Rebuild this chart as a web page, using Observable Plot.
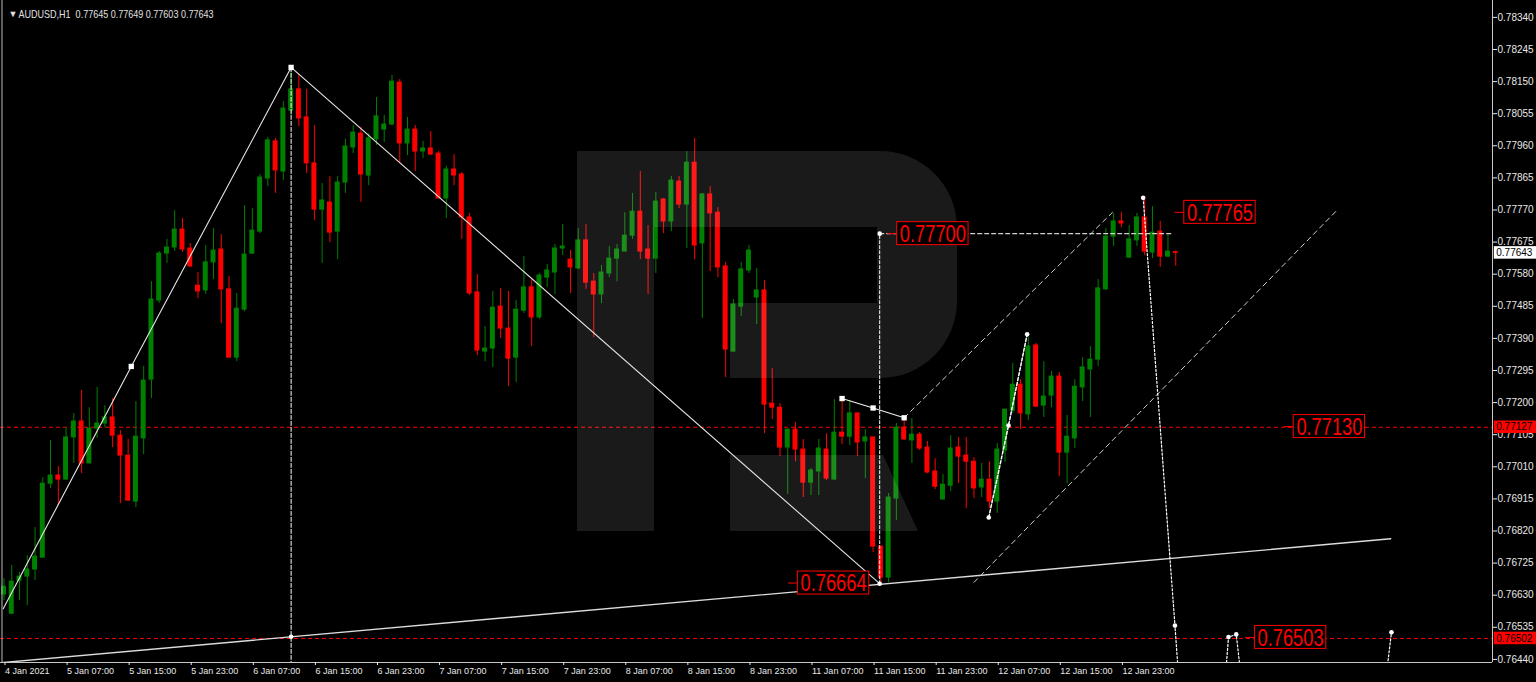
<!DOCTYPE html>
<html><head><meta charset="utf-8">
<script src="https://cdn.jsdelivr.net/npm/d3@7"></script>
<script src="https://cdn.jsdelivr.net/npm/@observablehq/plot@0.6"></script>
<style>
html,body{margin:0;padding:0;background:#000;}
#chart{position:relative;width:1536px;height:682px;overflow:hidden;background:#000;}
</style></head><body><div id="chart"></div>
<script>
// ---- AUDUSD H1 candles (bar 0 = 4 Jan 23:00) ----
const opens = [0.76632,0.76575,0.76673,0.76685,0.76706,0.76741,0.76960,0.76984,0.76972,0.77097,0.77144,0.77020,0.77123,0.77138,0.77156,0.77102,0.77043,0.76907,0.77094,0.77268,0.77502,0.77641,0.77659,0.77712,0.77656,0.77546,0.77532,0.77615,0.77653,0.77535,0.77333,0.77475,0.77641,0.77706,0.77863,0.77973,0.77884,0.78064,0.78127,0.78044,0.77908,0.77771,0.77792,0.77706,0.77851,0.77955,0.77996,0.77872,0.77979,0.78008,0.78023,0.78147,0.77967,0.78008,0.77943,0.77952,0.77937,0.77804,0.77890,0.77875,0.77748,0.77526,0.77351,0.77360,0.77484,0.77419,0.77333,0.77472,0.77541,0.77452,0.77570,0.77585,0.77656,0.77623,0.77597,0.77680,0.77558,0.77520,0.77582,0.77626,0.77647,0.77694,0.77765,0.77653,0.77626,0.77801,0.77736,0.77854,0.77786,0.77910,0.77671,0.77816,0.77762,0.77603,0.77351,0.77484,0.77591,0.77511,0.77532,0.77197,0.77185,0.77067,0.77120,0.77061,0.76963,0.76996,0.77061,0.76972,0.77111,0.77099,0.77168,0.77085,0.77097,0.76774,0.76682,0.76916,0.77126,0.77088,0.77105,0.77067,0.76996,0.76913,0.76954,0.77067,0.77043,0.77025,0.76949,0.76972,0.76907,0.77058,0.77176,0.77253,0.77165,0.77369,0.77191,0.77221,0.77277,0.77052,0.77094,0.77245,0.77298,0.77327,0.77535,0.77691,0.77736,0.77629,0.77680,0.77748,0.77644,0.77706,0.77632,0.77645];
const highs = [0.76679,0.76718,0.76697,0.76747,0.76830,0.76978,0.77088,0.77011,0.77126,0.77168,0.77236,0.77185,0.77245,0.77191,0.77212,0.77117,0.77091,0.77203,0.77307,0.77558,0.77647,0.77683,0.77768,0.77745,0.77671,0.77585,0.77665,0.77715,0.77697,0.77573,0.77523,0.77783,0.77774,0.77875,0.77985,0.77982,0.78091,0.78192,0.78171,0.78127,0.78020,0.77848,0.77869,0.77869,0.77979,0.78020,0.78014,0.77996,0.78103,0.78050,0.78168,0.78156,0.78044,0.78020,0.77973,0.78002,0.77943,0.77899,0.77934,0.77881,0.77760,0.77579,0.77425,0.77529,0.77538,0.77529,0.77502,0.77632,0.77564,0.77582,0.77609,0.77668,0.77727,0.77650,0.77715,0.77727,0.77582,0.77606,0.77662,0.77668,0.77762,0.77819,0.77884,0.77724,0.77822,0.77804,0.77869,0.77869,0.77943,0.77982,0.77819,0.77839,0.77777,0.77615,0.77505,0.77615,0.77665,0.77597,0.77561,0.77301,0.77197,0.77120,0.77141,0.77091,0.77005,0.77091,0.77108,0.77209,0.77206,0.77206,0.77168,0.77120,0.77097,0.76774,0.76931,0.77138,0.77147,0.77153,0.77111,0.77085,0.77034,0.76987,0.77102,0.77097,0.77097,0.77037,0.77020,0.77025,0.77079,0.77179,0.77316,0.77268,0.77392,0.77375,0.77321,0.77292,0.77289,0.77162,0.77268,0.77333,0.77366,0.77564,0.77715,0.77760,0.77762,0.77724,0.77760,0.77804,0.77780,0.77736,0.77697,0.77649];
const lows = [0.76614,0.76575,0.76614,0.76599,0.76673,0.76741,0.76946,0.76895,0.76972,0.77020,0.76990,0.77020,0.77094,0.77126,0.77067,0.76901,0.76907,0.76889,0.77046,0.77212,0.77493,0.77612,0.77647,0.77644,0.77600,0.77508,0.77520,0.77564,0.77434,0.77333,0.77321,0.77469,0.77638,0.77700,0.77839,0.77819,0.77857,0.78050,0.78017,0.77878,0.77739,0.77612,0.77674,0.77623,0.77819,0.77937,0.77792,0.77842,0.77961,0.77970,0.78020,0.77908,0.77931,0.77884,0.77922,0.77931,0.77804,0.77745,0.77842,0.77683,0.77517,0.77339,0.77321,0.77304,0.77390,0.77247,0.77259,0.77464,0.77366,0.77446,0.77541,0.77520,0.77635,0.77523,0.77594,0.77535,0.77392,0.77493,0.77570,0.77558,0.77647,0.77683,0.77623,0.77520,0.77582,0.77700,0.77706,0.77774,0.77656,0.77623,0.77449,0.77588,0.77570,0.77274,0.77348,0.77455,0.77582,0.77431,0.77108,0.77150,0.77040,0.76928,0.77025,0.76919,0.76925,0.76925,0.76969,0.76972,0.77076,0.77073,0.77040,0.76975,0.76756,0.76664,0.76667,0.76851,0.77088,0.77020,0.77058,0.76990,0.76943,0.76913,0.76937,0.76960,0.76886,0.76916,0.76919,0.76886,0.76872,0.77023,0.77168,0.77120,0.77147,0.77185,0.77156,0.77185,0.76981,0.76960,0.77064,0.77203,0.77156,0.77307,0.77532,0.77662,0.77718,0.77626,0.77662,0.77635,0.77626,0.77600,0.77629,0.77603];
const closes = [0.76655,0.76670,0.76685,0.76706,0.76744,0.76960,0.76984,0.76972,0.77097,0.77144,0.77020,0.77123,0.77138,0.77156,0.77102,0.77043,0.76910,0.77099,0.77265,0.77505,0.77641,0.77659,0.77712,0.77653,0.77603,0.77529,0.77615,0.77650,0.77535,0.77333,0.77478,0.77638,0.77709,0.77866,0.77976,0.77887,0.78070,0.78127,0.78041,0.77908,0.77771,0.77798,0.77703,0.77851,0.77958,0.77999,0.77875,0.77982,0.78047,0.78023,0.78150,0.77967,0.78008,0.77943,0.77952,0.77934,0.77804,0.77890,0.77872,0.77748,0.77523,0.77354,0.77360,0.77481,0.77419,0.77330,0.77475,0.77541,0.77452,0.77576,0.77591,0.77656,0.77662,0.77600,0.77680,0.77555,0.77520,0.77585,0.77626,0.77653,0.77694,0.77765,0.77647,0.77626,0.77795,0.77736,0.77857,0.77786,0.77910,0.77665,0.77816,0.77760,0.77600,0.77357,0.77490,0.77594,0.77650,0.77532,0.77194,0.77185,0.77067,0.77120,0.77061,0.76963,0.76999,0.77064,0.76975,0.77111,0.77099,0.77168,0.77082,0.77097,0.76774,0.76682,0.76919,0.77126,0.77091,0.77105,0.77064,0.76993,0.76951,0.76957,0.77064,0.77040,0.77025,0.76946,0.76972,0.76907,0.77061,0.77179,0.77253,0.77168,0.77366,0.77188,0.77218,0.77277,0.77052,0.77099,0.77247,0.77304,0.77327,0.77538,0.77691,0.77736,0.77730,0.77683,0.77748,0.77647,0.77703,0.77632,0.77647,0.77643];

// ---- axis tick labels ----
const timeTickBars = [0,8,16,24,32,40,48,56,64,72,80,88,96,104,112,120,128,136,144];
const timeLabels = ["4 Jan 2021","5 Jan 07:00","5 Jan 15:00","5 Jan 23:00","6 Jan 07:00","6 Jan 15:00","6 Jan 23:00","7 Jan 07:00","7 Jan 15:00","7 Jan 23:00","8 Jan 07:00","8 Jan 15:00","8 Jan 23:00","11 Jan 07:00","11 Jan 15:00","11 Jan 23:00","12 Jan 07:00","12 Jan 15:00","12 Jan 23:00"];
const priceTicks = [0.78340,0.78245,0.78150,0.78055,0.77960,0.77865,0.77770,0.77675,0.77580,0.77485,0.77390,0.77295,0.77200,0.77105,0.77010,0.76915,0.76820,0.76725,0.76630,0.76535,0.76440];
const headerText = "AUDUSD,H1\u00a0\u00a00.77645 0.77649 0.77603 0.77643";

// ---- horizontal levels ----
const levelPrices = [0.77127, 0.76502];
const tagPrices = [0.77643, 0.77127, 0.76502];
const tagTexts = ["0.77643", "0.77127", "0.76502"];
const tagKinds = ["bid", "level", "level"];

// ---- wave annotations (bar index, price) ----
const waveBars = [-0.1, 16.4, 37, 112.85];
const wavePrices = [0.76590, 0.77307, 0.78192, 0.76664];
const squareBars = [16.4, 37, 108, 112, 116];
const squarePrices = [0.77307, 0.78192, 0.77212, 0.77184, 0.77155];
const supportBars = [-0.5, 178.7];
const supportPrices = [0.76430, 0.76797];
const peakDropBars = [37, 37];
const peakDropPrices = [0.78192, 0.76431];
const targetVBars = [112.85, 112.85];
const targetVPrices = [0.76664, 0.77700];
const targetHBars = [112.85, 150.7];
const targetHPrices = [0.77700, 0.77700];
const smallBars = [108, 112, 116];
const smallPrices = [0.77212, 0.77184, 0.77155];
const upperChBars = [116, 142.85];
const upperChPrices = [0.77155, 0.77763];
const lowerChBars = [125, 171.85];
const lowerChPrices = [0.76668, 0.77771];
const zigBars = [126.9, 129.45, 131.85];
const zigPrices = [0.76860, 0.77132, 0.77402];
const fcBars = [146.8, 150.9, 154.2, 157.8, 158.8, 168.4, 178.8];
const fcPrices = [0.77806, 0.76540, 0.75460, 0.76506, 0.76514, 0.74543, 0.76520];
const arrowBars = [37, 112.85, 112.85, 126.9, 129.45, 131.85, 146.8, 150.9, 157.8, 158.8, 178.8];
const arrowPrices = [0.76507, 0.76664, 0.77700, 0.76860, 0.77132, 0.77402, 0.77806, 0.76540, 0.76506, 0.76514, 0.76520];

// ---- price labels ----
const labelTexts = ["0.77700", "0.77765", "0.77130", "0.76503", "0.76664"];
const labelBars = [115.1, 152.1, 166.2, 161.2, 102.3];
const labelPrices = [0.77700, 0.77763, 0.77129, 0.76505, 0.76666];

// ================= drawing =================
const GREEN = "#008000", RED = "#ff0000";
const candles = opens.map((o, i) => ({i, o, h: highs[i], l: lows[i], c: closes[i]}));
const col = d => d.c >= d.o ? GREEN : RED;
const pts = (bars, prices) => bars.map((b, k) => ({b, p: prices[k]}));
const labels = labelTexts.map((t, k) => ({t, b: labelBars[k], p: labelPrices[k]}));
const tags = tagTexts.map((t, k) => ({t, p: tagPrices[k], kind: tagKinds[k]}));
const X0 = -0.451, X1 = 191.82, Y0 = 0.764308, Y1 = 0.78390;
const BOXW = 9.2, BOXH = 0.00034, TAGH = 0.000185;

function logoMark() {
  const g = d3.create("svg:g").attr("fill", "#ffffff").attr("fill-opacity", 0.1);
  g.append("path").attr("d",
    "M577,151H654V531H577Z" +
    "M654,151H880A77,77 0 0 1 957,228V301A77,77 0 0 1 880,378H730V303H877V227H654Z" +
    "M730,455H883L918,531H730Z");
  return g.node();
}

const chart = Plot.plot({
  width: 1536, height: 682,
  marginLeft: 0, marginRight: 44, marginTop: 0, marginBottom: 20,
  style: {background: "#000", color: "#e8e8e8", fontFamily: "'Liberation Sans', Arial, sans-serif", overflow: "visible"},
  x: {type: "linear", domain: [X0, X1], axis: null},
  y: {type: "linear", domain: [Y0, Y1], axis: null},
  marks: [
    Plot.ruleY(levelPrices, {stroke: RED, strokeDasharray: "4,3", strokeWidth: 1}),
    Plot.ruleX(candles, {x: "i", y1: "l", y2: "h", stroke: col, strokeWidth: 1}),
    Plot.rect(candles, {x1: d => d.i - 0.32, x2: d => d.i + 0.32, y1: d => Math.min(d.o, d.c), y2: d => Math.max(d.o, d.c), fill: col, insetTop: -0.5, insetBottom: -0.5}),
    logoMark,
    // solid wave lines
    Plot.line(pts(waveBars, wavePrices), {x: "b", y: "p", stroke: "#e6e6e6", strokeWidth: 1.1, clip: true}),
    Plot.line(pts(supportBars, supportPrices), {x: "b", y: "p", stroke: "#dcdcdc", strokeWidth: 1.4, clip: true}),
    Plot.line(pts(smallBars, smallPrices), {x: "b", y: "p", stroke: "#f0f0f0", strokeWidth: 1.1}),
    // dotted / dashed
    Plot.line(pts(peakDropBars, peakDropPrices), {x: "b", y: "p", stroke: "#ffffff", strokeDasharray: "4,2", strokeWidth: 1, clip: true}),
    Plot.line(pts(targetVBars, targetVPrices), {x: "b", y: "p", stroke: "#ffffff", strokeDasharray: "3,2", strokeWidth: 1}),
    Plot.line(pts(targetHBars, targetHPrices), {x: "b", y: "p", stroke: "#d0d0d0", strokeDasharray: "4,3", strokeWidth: 1.2}),
    Plot.line(pts(upperChBars, upperChPrices), {x: "b", y: "p", stroke: "#cfcfcf", strokeDasharray: "5,4", strokeWidth: 1}),
    Plot.line(pts(lowerChBars, lowerChPrices), {x: "b", y: "p", stroke: "#cfcfcf", strokeDasharray: "5,4", strokeWidth: 1}),
    Plot.line(pts(zigBars, zigPrices), {x: "b", y: "p", stroke: "#ffffff", strokeDasharray: "3,2", strokeWidth: 1.5}),
    Plot.line(pts(fcBars, fcPrices), {x: "b", y: "p", stroke: "#ffffff", strokeDasharray: "2,2", strokeWidth: 1.2, clip: true}),
    Plot.dot(pts(arrowBars, arrowPrices), {x: "b", y: "p", r: 2.3, fill: "#ffffff"}),
    Plot.dot(pts(squareBars, squarePrices), {x: "b", y: "p", r: 3, symbol: "square", fill: "#ffffff"}),
    // price labels
    Plot.ruleY(labels, {y: "p", x1: d => d.b - 1.2, x2: "b", stroke: RED, strokeWidth: 1}),
    Plot.rect(labels, {x1: "b", x2: d => d.b + BOXW, y1: d => d.p - BOXH, y2: d => d.p + BOXH, fill: "#000", stroke: RED, strokeWidth: 1}),
    Plot.text(labels, {x: d => d.b + BOXW / 2, y: "p", text: "t", fill: RED, fontSize: 23, dy: 1, fontFamily: "'Liberation Sans Narrow', 'Liberation Sans', Arial, sans-serif"}),
    // frame
    Plot.ruleY([Y0], {stroke: "#c8c8c8", strokeWidth: 1}),
    Plot.ruleX([X1], {stroke: "#c8c8c8", strokeWidth: 1}),
    Plot.ruleX([X0 + 1.5 / 7.76], {stroke: "#bdbdbd", strokeWidth: 1}),
    // axes
    Plot.axisY(priceTicks, {anchor: "right", tickSize: 4, tickPadding: 1, fontSize: 10, tickFormat: d => d.toFixed(5), color: "#e8e8e8"}),
    Plot.axisX(timeTickBars, {anchor: "bottom", tickSize: 3, tickPadding: 2, fontSize: 9, textAnchor: "start", dx: 1, tickFormat: d => timeLabels[timeTickBars.indexOf(d)], color: "#e8e8e8"}),
    // right axis price tags
    Plot.rect(tags, {x1: 192.05, x2: 197.5, y1: d => d.p - TAGH, y2: d => d.p + TAGH, fill: d => d.kind === "bid" ? "#ffffff" : RED}),
    Plot.text(tags, {x: 192.3, y: "p", text: "t", textAnchor: "start", fill: "#000", fontSize: 10}),
    // header
    Plot.text(["\u25BC"], {frameAnchor: "top-left", dx: 8, dy: 10, fontSize: 9, fill: "#e0e0e1"}),
    Plot.text([headerText], {frameAnchor: "top-left", dx: 18, dy: 10, textAnchor: "start", fontSize: 10.5, fill: "#e0e0e0"})
  ]
});

document.getElementById("chart").appendChild(chart);
d3.select(chart).selectAll('g[font-size="23"] text')
  .attr("textLength", 66).attr("lengthAdjust", "spacingAndGlyphs");
d3.select(chart).selectAll('g[font-size="10.5"] text')
  .attr("textLength", 195).attr("lengthAdjust", "spacingAndGlyphs");
</script>
</body></html>
